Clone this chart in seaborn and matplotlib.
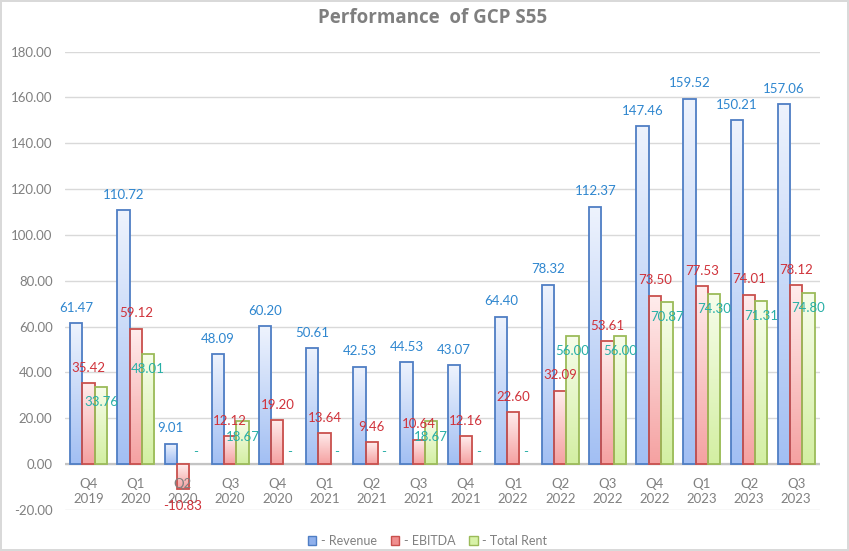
import numpy as np
import pandas as pd
import matplotlib
matplotlib.use("Agg")
import matplotlib.pyplot as plt
import seaborn as sns
from matplotlib.colors import LinearSegmentedColormap
from matplotlib.patches import Patch

# chart data
quarters = ["Q4", "Q1", "Q2", "Q3", "Q4", "Q1", "Q2", "Q3", "Q4", "Q1", "Q2", "Q3", "Q4", "Q1", "Q2", "Q3"]
years = ["2019", "2020", "2020", "2020", "2020", "2021", "2021", "2021", "2021",
         "2022", "2022", "2022", "2022", "2023", "2023", "2023"]
revenue = [61.47, 110.72, 9.01, 48.09, 60.20, 50.61, 42.53, 44.53, 43.07,
           64.40, 78.32, 112.37, 147.46, 159.52, 150.21, 157.06]
ebitda = [35.42, 59.12, -10.83, 12.12, 19.20, 13.64, 9.46, 10.64, 12.16,
          22.60, 32.09, 53.61, 73.50, 77.53, 74.01, 78.12]
total_rent = [33.76, 48.01, 0.0, 18.67, 0.0, 0.0, 0.0, 18.67, 0.0,
              0.0, 56.00, 56.00, 70.87, 74.30, 71.31, 74.80]
series_names = ["Revenue", "EBITDA", "Total Rent"]

periods = [f"{q} {y}" for q, y in zip(quarters, years)]
df = pd.DataFrame({"period": periods, "Revenue": revenue, "EBITDA": ebitda, "Total Rent": total_rent})
long_df = df.melt(id_vars="period", var_name="series", value_name="value")

# styling
edge_cols = {"Revenue": "#4F7EC4", "EBITDA": "#C9504D", "Total Rent": "#9BBB59"}
top_cols = {"Revenue": "#EEF3FD", "EBITDA": "#FFEDED", "Total Rent": "#F7FDEB"}
bottom_cols = {"Revenue": "#A2BFF3", "EBITDA": "#F5A1A1", "Total Rent": "#D3EFA2"}
label_cols = {"Revenue": "#2E86CF", "EBITDA": "#D0323A", "Total Rent": "#27AFA6"}
gray = "#808080"

sns.set_style("white")
plt.rcParams["font.family"] = ["Lato", "DejaVu Sans"]

fig = plt.figure(figsize=(8.49, 5.51), dpi=100)
fig.patch.set_edgecolor("#D9D9D9")
fig.patch.set_linewidth(1.5)
ax = fig.add_axes([0.0766, 0.0744, 0.889, 0.832])

sns.barplot(data=long_df, x="period", y="value", hue="series", hue_order=series_names,
            palette=[bottom_cols[s] for s in series_names], width=0.78, legend=False,
            ax=ax, zorder=3)

# gradient fill for each bar
for name, container in zip(series_names, ax.containers):
    cmap = LinearSegmentedColormap.from_list(name, [bottom_cols[name], top_cols[name]])
    for bar in container:
        x0, y0 = bar.get_x(), bar.get_y()
        w, h = bar.get_width(), bar.get_height()
        if h == 0:
            bar.set_visible(False)
            continue
        grad = np.linspace(0, 1, 128).reshape(-1, 1)
        img = ax.imshow(grad, extent=[x0, x0 + w, min(y0, y0 + h), max(y0, y0 + h)],
                        origin="lower", aspect="auto", cmap=cmap, zorder=3)
        img.set_clip_path(bar)
        bar.set_facecolor("none")
        bar.set_edgecolor(edge_cols[name])
        bar.set_linewidth(1.3)
        bar.set_zorder(4)

ax.set_xlim(-0.5, len(periods) - 0.5)
ax.set_ylim(-20, 180)

# data labels
for name, container, vals in zip(series_names, ax.containers, [revenue, ebitda, total_rent]):
    for bar, v in zip(container, vals):
        xc = bar.get_x() + bar.get_width() / 2
        if name == "Total Rent":
            if v == 0:
                txt, off = "-", 9
            else:
                txt, off = f"{v:.2f}", -11
        else:
            txt = f"{v:.2f}"
            off = 11 if v >= 0 else -12
        ax.annotate(txt, (xc, v), xytext=(0, off), textcoords="offset points",
                    ha="center", va="center", color=label_cols[name], fontsize=9.5, zorder=6)

# axes cosmetics
yt = list(range(-20, 181, 20))
ax.set_yticks(yt)
ax.set_yticklabels([f"{v:.2f}" for v in yt], color=gray, fontsize=9.5)
ax.yaxis.grid(True, color="#D9D9D9", lw=1)
ax.set_axisbelow(True)
ax.axhline(0, color="#C4C4C4", lw=1.6, zorder=2)
ax.tick_params(axis="y", length=0, pad=9)
ax.set_xticks(range(len(periods)))
ax.set_xticklabels([])
ax.tick_params(axis="x", length=0)
ax.set_xlabel("")
ax.set_ylabel("")
for s in ax.spines.values():
    s.set_visible(False)

for i, (q, y) in enumerate(zip(quarters, years)):
    ax.text(i, -12, f"{q}\n{y}", ha="center", va="center", color=gray,
            fontsize=9.5, linespacing=1.3, zorder=5)

fig.text(0.509, 1 - 18 / 551, "Performance  of GCP S55", ha="center", va="center",
         fontsize=13.5, fontweight="bold", color="#7F7F7F", family=["Open Sans", "DejaVu Sans"])

handles = [Patch(facecolor="#8FB0EC", edgecolor=edge_cols["Revenue"]),
           Patch(facecolor="#F08E8E", edgecolor=edge_cols["EBITDA"]),
           Patch(facecolor="#D8F2A8", edgecolor=edge_cols["Total Rent"])]
fig.legend(handles, [f"- {s}" for s in series_names], loc="center",
           bbox_to_anchor=(0.5035, 1 - 541 / 551), ncol=3, frameon=False,
           handlelength=0.7, handleheight=0.7, handletextpad=0.35, columnspacing=1.1,
           fontsize=9, labelcolor=gray)

fig.savefig("out.png", dpi=100)
